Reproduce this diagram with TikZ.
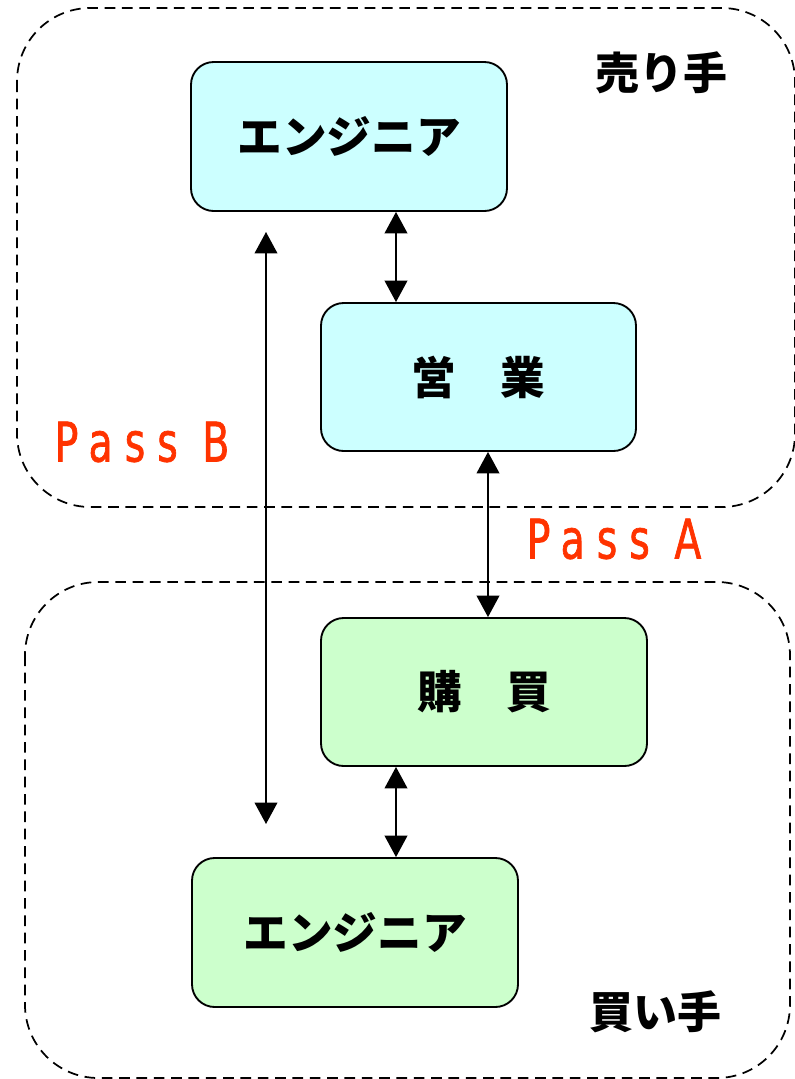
\documentclass[tikz,border=0pt]{standalone}
\usepackage{fontspec}
\usetikzlibrary{arrows.meta}
\newfontfamily\jpfont{Noto Sans CJK JP}
\newfontfamily\passfont[FakeStretch=0.72,LetterSpace=22,FakeBold=1.2]{DejaVu Sans}
\definecolor{cyanfill}{HTML}{CCFFFF}
\definecolor{greenfill}{HTML}{CCFFCC}
\definecolor{passred}{HTML}{FF3300}
\tikzset{
  region/.style={draw=black,line width=1.3pt,dash pattern=on 8pt off 5pt,rounded corners=55pt},
  box/.style={draw=black,line width=1.4pt,rounded corners=17pt,inner sep=0pt,
    font=\jpfont\bfseries\fontsize{33.5}{36}\selectfont},
  sellerbox/.style={box,fill=cyanfill},
  buyerbox/.style={box,fill=greenfill},
  side/.style={font=\jpfont\bfseries\fontsize{33}{36}\selectfont},
  passlabel/.style={text=passred,font=\passfont\fontsize{41}{44}\selectfont},
  link/.style={line width=1.1pt,{Triangle[length=16pt,width=17pt]}-{Triangle[length=16pt,width=17pt]}}
}
\begin{document}
\begin{tikzpicture}[x=0.75pt,y=-0.75pt]
\useasboundingbox (0,0) rectangle (795,1079);
% regions
\draw[region] (17,8) rectangle (795,507);
\draw[region] (25,582) rectangle (790,1078);
% boxes
\node[sellerbox,minimum width=237pt,minimum height=111.75pt] (e1) at (349,136.5) {エンジニア};
\node[sellerbox,minimum width=236.25pt,minimum height=111pt] (sales) at (478.5,377) {営　業};
\node[buyerbox,minimum width=244.5pt,minimum height=111pt] (buy) at (484,692) {購　買};
\node[buyerbox,minimum width=244.5pt,minimum height=111.75pt] (e2) at (355,932.5) {エンジニア};
% side labels
\node[side] (seller) at (661,73) {売り手};
\node[side] (buyer) at (655,1012) {買い手};
% pass labels
\node[passlabel] (passB) at (142,442) {Pass B};
\node[passlabel] (passA) at (614,539) {Pass A};
% connectors
\draw[link] (396,0 |- e1.south) -- (396,0 |- sales.north);
\draw[link] (488,0 |- sales.south) -- (488,0 |- buy.north);
\draw[link] (396,0 |- buy.south) -- (396,0 |- e2.north);
\coordinate (pbT) at (266,232);
\coordinate (pbB) at (266,824);
\draw[link] (pbT) -- (pbB);
\end{tikzpicture}
\end{document}
